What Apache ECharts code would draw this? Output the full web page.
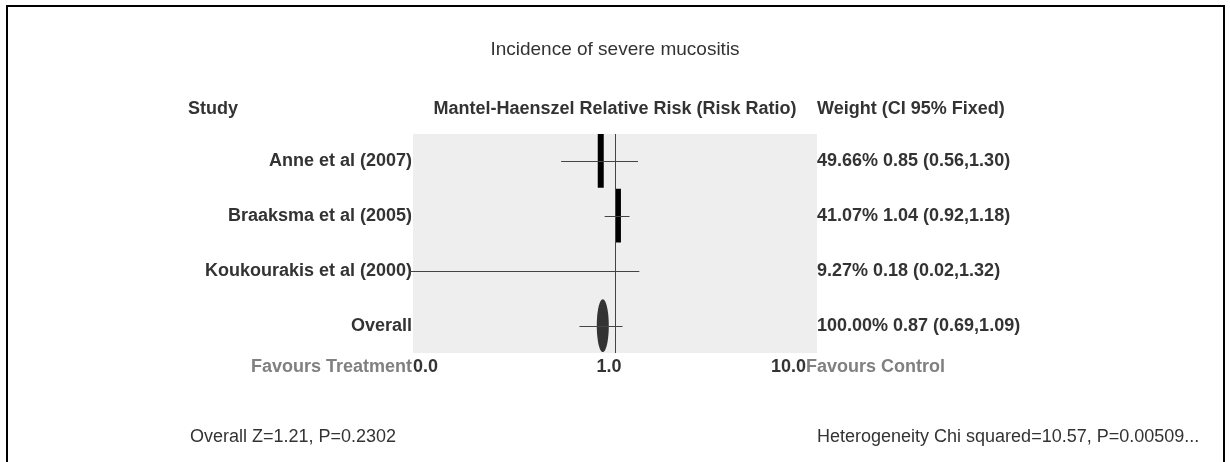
<!DOCTYPE html>
<html>
<head>
<meta charset="utf-8">
<script src="https://cdn.jsdelivr.net/npm/echarts@6/dist/echarts.min.js"></script>
<style>
  html, body { margin: 0; padding: 0; background: #fff; }
  #chart { width: 1230px; height: 462px; }
</style>
</head>
<body>
<div id="chart"></div>
<script>
// Forest plot: severe mucositis, Mantel-Haenszel risk ratios (fixed effect)
const studies = ['Anne et al (2007)', 'Braaksma et al (2005)', 'Koukourakis et al (2000)', 'Overall'];
const weights = [49.66, 41.07, 9.27, 100.00];
const riskRatio = [0.85, 1.04, 0.18, 0.87];
const ciLow = [0.56, 0.92, 0.02, 0.69];
const ciHigh = [1.30, 1.18, 1.32, 1.09];
const tickValues = [0.1, 1, 10];
const tickLabels = ['0.0', '1.0', '10.0'];

const FONT = "'Liberation Sans', Arial, sans-serif";
const DARK = '#333333';
const BOLD_SIZE = 18;
const overallIndex = studies.length - 1;

const rows = studies.map((s, i) => [i, riskRatio[i], ciLow[i], ciHigh[i], weights[i]]);

const rightLabels = studies.map((s, i) =>
  weights[i].toFixed(2) + '% ' + riskRatio[i].toFixed(2) + ' (' + ciLow[i].toFixed(2) + ',' + ciHigh[i].toFixed(2) + ')');

function clipX(x, cs) {
  return Math.max(cs.x, Math.min(cs.x + cs.width, x));
}

const chart = echarts.init(document.getElementById('chart'));

chart.setOption({
  animation: false,
  backgroundColor: '#ffffff',
  title: {
    text: 'Incidence of severe mucositis',
    left: 'center',
    top: 35,
    textStyle: { fontFamily: FONT, fontSize: 19, fontWeight: 'normal', color: DARK }
  },
  grid: {
    left: 413, right: 413, top: 134, bottom: 109,
    show: true, backgroundColor: '#eeeeee', borderWidth: 0
  },
  xAxis: {
    type: 'log', logBase: 10, min: tickValues[0], max: tickValues[tickValues.length - 1],
    axisLine: { show: false }, axisTick: { show: false },
    axisLabel: { show: false }, splitLine: { show: false }
  },
  yAxis: [
    {
      type: 'category', data: studies, inverse: true,
      axisLine: { show: false }, axisTick: { show: false }, splitLine: { show: false },
      axisLabel: { margin: 1, fontFamily: FONT, fontSize: BOLD_SIZE, fontWeight: 'bold', color: DARK }
    },
    {
      type: 'category', data: rightLabels, inverse: true, position: 'right',
      axisLine: { show: false }, axisTick: { show: false }, splitLine: { show: false },
      axisLabel: { margin: 0, fontFamily: FONT, fontSize: BOLD_SIZE, fontWeight: 'bold', color: DARK }
    }
  ],
  series: [
    {
      // line of no effect
      type: 'line', data: [],
      markLine: {
        silent: true, symbol: 'none', label: { show: false },
        lineStyle: { color: '#444', width: 1, type: 'solid' },
        data: [{ xAxis: 1 }]
      }
    },
    {
      type: 'custom',
      data: rows,
      encode: { x: [1, 2, 3], y: 0 },
      renderItem: function (params, api) {
        const cs = params.coordSys;
        const i = api.value(0);
        const c = api.coord([api.value(1), i]);
        const lo = api.coord([api.value(2), i]);
        const hi = api.coord([api.value(3), i]);
        const band = api.size([0, 1])[1];
        const y = Math.round(c[1]) + 0.5;
        const children = [];
        if (i === overallIndex) {
          children.push({
            type: 'ellipse',
            shape: { cx: c[0], cy: c[1], rx: 6, ry: band / 2 - 1 },
            style: { fill: DARK }
          });
        } else if (api.value(4) >= 20) {
          const w = Math.round(api.value(4) / 8);
          children.push({
            type: 'rect',
            shape: { x: c[0] - w / 2, y: c[1] - band / 2, width: w, height: band - 1 },
            style: { fill: '#000' }
          });
        }
        children.push({
          type: 'line',
          shape: { x1: clipX(lo[0], cs) - 3, y1: y, x2: clipX(hi[0], cs), y2: y },
          style: { stroke: '#444', lineWidth: 1 }
        });
        return { type: 'group', children: children };
      },
      z: 5
    }
  ]
});

// tick labels and captions below the plot, placed from the axis scale
const px = tickValues.map(v => chart.convertToPixel({ xAxisIndex: 0 }, v));
const baseY = 367;
const tickStyle = { fontFamily: FONT, fontSize: BOLD_SIZE, fontWeight: 'bold', fill: DARK };
const capStyle = { fontFamily: FONT, fontSize: BOLD_SIZE, fontWeight: 'bold', fill: '#808080' };
const statStyle = { fontFamily: FONT, fontSize: 18, fill: DARK };

chart.setOption({
  graphic: [
    { type: 'text', x: px[0] - 1, y: baseY, style: Object.assign({ text: 'Favours Treatment', align: 'right', verticalAlign: 'middle' }, capStyle) },
    { type: 'text', x: px[0], y: baseY, style: Object.assign({ text: tickLabels[0], align: 'left', verticalAlign: 'middle' }, tickStyle) },
    { type: 'text', x: px[1] - 6, y: baseY, style: Object.assign({ text: tickLabels[1], align: 'center', verticalAlign: 'middle' }, tickStyle) },
    { type: 'text', x: px[2] - 11, y: baseY, style: Object.assign({ text: tickLabels[2], align: 'right', verticalAlign: 'middle' }, tickStyle) },
    { type: 'text', x: px[2] - 11, y: baseY, style: Object.assign({ text: 'Favours Control', align: 'left', verticalAlign: 'middle' }, capStyle) },
    { type: 'text', x: 188, y: 109, style: Object.assign({ text: 'Study', align: 'left', verticalAlign: 'middle' }, tickStyle) },
    { type: 'text', x: 615, y: 109, style: Object.assign({ text: 'Mantel-Haenszel Relative Risk (Risk Ratio)', align: 'center', verticalAlign: 'middle' }, tickStyle) },
    { type: 'text', x: 817, y: 109, style: Object.assign({ text: 'Weight (CI 95% Fixed)', align: 'left', verticalAlign: 'middle' }, tickStyle) },
    { type: 'text', x: 190, y: 437, style: Object.assign({ text: 'Overall Z=1.21, P=0.2302', align: 'left', verticalAlign: 'middle' }, statStyle) },
    { type: 'text', x: 817, y: 437, style: Object.assign({ text: 'Heterogeneity Chi squared=10.57, P=0.00509...', align: 'left', verticalAlign: 'middle' }, statStyle) },
    {
      type: 'polyline',
      shape: { points: [[7, 462], [7, 6], [1224, 6], [1224, 462]] },
      style: { stroke: '#000', lineWidth: 2, fill: null }
    }
  ]
});
</script>
</body>
</html>
